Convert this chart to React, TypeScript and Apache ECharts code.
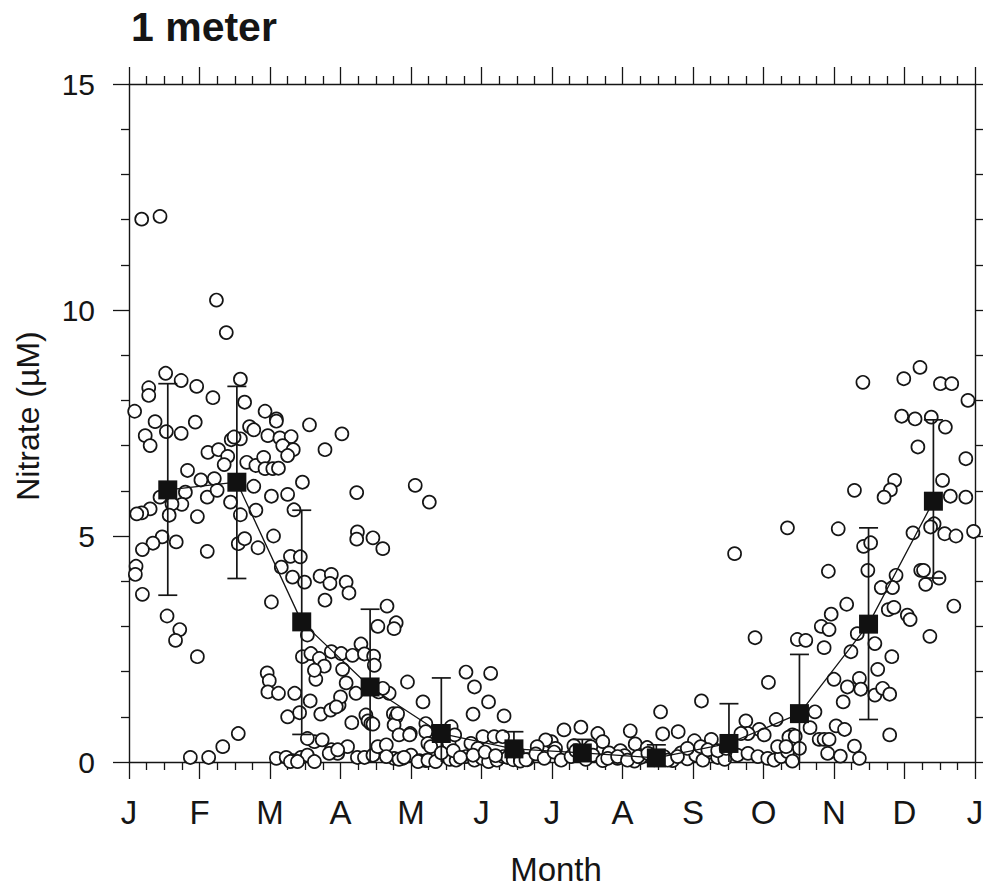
import React, { useEffect, useRef } from "react";
import * as echarts from "echarts";

// Month tick labels (x in month units, 0 = 1 Jan, 12 = next 1 Jan)
const monthLabels = ["J", "F", "M", "A", "M", "J", "J", "A", "S", "O", "N", "D", "J"];

// Individual observations [month, nitrate µM]
const janFebPts: number[][] = [
  [0.18, 12.01], [0.44, 12.07], [1.24, 10.22], [1.38, 9.5],
  [0.08, 7.76], [0.28, 8.28], [0.28, 8.11], [0.52, 8.6], [0.74, 8.44], [0.96, 8.31], [1.19, 8.06],
  [0.37, 7.53], [0.23, 7.22], [0.3, 7.0], [0.53, 7.31], [0.74, 7.27], [0.94, 7.52], [1.12, 6.85], [1.27, 6.91],
  [0.83, 6.45], [1.02, 6.24], [1.11, 5.86], [1.21, 6.27], [1.25, 6.01], [0.8, 5.97], [0.75, 5.7], [0.61, 5.71],
  [0.44, 5.86], [0.3, 5.6], [0.18, 5.51], [0.11, 5.49], [0.57, 5.46], [0.97, 5.43],
  [0.47, 4.98], [0.34, 4.84], [0.19, 4.7], [0.67, 4.87], [1.11, 4.66], [0.1, 4.33], [0.09, 4.15], [0.19, 3.71],
  [0.54, 3.23], [0.72, 2.93], [0.66, 2.69], [0.97, 2.33],
  [0.87, 0.1], [1.13, 0.1], [1.33, 0.34], [1.55, 0.63],
];

const febMarPts: number[][] = [
  [1.58, 8.47], [1.64, 7.96], [1.93, 7.76], [2.09, 7.59], [2.09, 7.54], [2.56, 7.46], [3.02, 7.26], [1.71, 7.42],
  [1.77, 7.35], [1.97, 7.22], [2.14, 7.17], [2.3, 7.2], [2.18, 7.0], [2.33, 6.91], [2.25, 6.78], [1.45, 7.13],
  [1.58, 7.15], [1.49, 7.19], [1.4, 6.76], [1.35, 6.58], [1.67, 6.63], [1.8, 6.56], [1.91, 6.74], [1.93, 6.49],
  [2.04, 6.49], [2.12, 6.5], [2.78, 6.91], [1.77, 6.1], [1.44, 5.75], [1.8, 5.57], [2.02, 5.88], [2.25, 5.92],
  [2.46, 6.19], [2.34, 5.58], [1.58, 5.47], [1.55, 4.83], [1.64, 4.94], [1.83, 4.74], [2.05, 5.0], [3.23, 5.96],
  [3.24, 5.09], [3.23, 4.93], [3.46, 4.96], [3.6, 4.72], [4.06, 6.12], [4.26, 5.75],
];

const springPts: number[][] = [
  [2.16, 4.31], [2.29, 4.55], [2.43, 4.54], [2.32, 4.09], [2.49, 3.98], [2.02, 3.54], [2.71, 4.11], [2.87, 4.15],
  [2.85, 3.95], [3.08, 3.98], [3.12, 3.74], [2.78, 3.58], [3.66, 3.45], [3.53, 3.0], [3.79, 3.08], [3.76, 2.95],
  [3.29, 2.61], [2.53, 2.81], [2.46, 2.33], [2.58, 2.4], [2.7, 2.29], [2.77, 2.12], [2.87, 2.44], [3.01, 2.4],
  [3.17, 2.36], [3.34, 2.39], [3.47, 2.34], [3.48, 2.14], [3.03, 2.05], [3.08, 1.75], [2.65, 1.83], [2.63, 2.03],
  [1.96, 1.97], [1.99, 1.8], [1.97, 1.55], [2.12, 1.52], [2.35, 1.52], [2.25, 1.0], [2.42, 1.09], [2.57, 1.35],
  [2.72, 1.06], [2.86, 1.15], [2.98, 1.26], [3.0, 1.44], [3.16, 0.87], [3.36, 1.04], [3.39, 0.91], [3.54, 1.55],
  [3.69, 1.52], [3.75, 1.07], [3.79, 1.0], [3.76, 0.82], [3.95, 1.77], [4.17, 1.33], [3.99, 0.63], [4.21, 0.85],
  [3.22, 1.52], [2.94, 1.22], [3.43, 0.85], [3.46, 0.84], [3.6, 1.63], [3.81, 1.07], [3.83, 0.6], [3.98, 0.6],
  [4.21, 0.67],
];

const springZeroPts: number[][] = [
  [2.09, 0.08], [2.23, 0.1], [2.32, 0.03], [2.44, 0.1], [2.53, 0.15], [2.63, 0.45], [2.74, 0.49], [2.87, 0.27],
  [2.96, 0.19], [3.1, 0.34], [3.24, 0.1], [3.34, 0.1], [3.46, 0.15], [3.53, 0.34], [3.65, 0.38], [3.76, 0.08],
  [3.88, 0.08], [4.0, 0.15], [4.12, 0.03], [4.21, 0.03], [2.53, 0.52], [2.29, 0.01], [2.39, 0.01], [2.63, 0.01],
  [2.84, 0.19], [2.96, 0.27], [3.65, 0.12], [3.83, 0.06], [3.9, 0.1], [4.1, 0.01], [4.24, 0.04], [4.35, 0.01],
  [4.55, 0.06], [4.64, 0.04], [4.78, 0.12], [4.9, 0.04], [5.01, 0.08], [5.1, 0.01], [5.22, 0.04], [5.31, 0.12],
];

const mayJunPts: number[][] = [
  [4.78, 1.99], [4.9, 1.66], [5.13, 1.96], [5.1, 1.33], [4.88, 1.06], [5.32, 1.02], [5.02, 0.56], [5.18, 0.56],
  [5.3, 0.56], [4.24, 0.41], [4.28, 0.34], [4.57, 0.78], [4.54, 0.41], [4.62, 0.6], [4.85, 0.41], [4.95, 0.3],
  [5.37, 0.1], [5.51, 0.2], [5.65, 0.05], [5.45, 0.05], [5.55, 0.02], [4.43, 0.2], [4.6, 0.25], [4.7, 0.1],
  [4.88, 0.15], [5.05, 0.22], [5.2, 0.14],
];

const summerPts: number[][] = [
  [5.99, 0.45], [6.17, 0.71], [6.41, 0.77], [6.65, 0.63], [6.72, 0.45], [7.11, 0.69], [7.18, 0.4], [7.54, 1.11],
  [7.57, 0.62], [7.79, 0.67], [8.02, 0.47], [8.12, 1.35], [8.26, 0.5], [8.59, 4.61], [5.91, 0.49],
  [5.79, 0.34], [6.05, 0.3], [6.31, 0.36], [6.55, 0.34], [6.97, 0.25], [7.35, 0.32],
];

const summerZeroPts: number[][] = [
  [5.63, 0.05], [5.77, 0.18], [5.89, 0.08], [6.03, 0.22], [6.13, 0.04], [6.27, 0.12], [6.34, 0.25], [6.48, 0.06],
  [6.58, 0.15], [6.72, 0.03], [6.81, 0.2], [6.93, 0.08], [7.03, 0.14], [7.17, 0.02], [7.26, 0.1], [7.38, 0.18],
  [7.45, 0.05], [7.59, 0.12], [7.71, 0.03], [7.83, 0.2], [7.92, 0.07], [8.04, 0.15], [8.14, 0.04], [8.26, 0.22],
  [8.35, 0.1], [8.45, 0.06], [7.92, 0.3], [8.11, 0.34], [8.21, 0.27], [8.35, 0.25], [8.47, 0.3], [8.63, 0.15],
  [8.78, 0.19], [8.92, 0.12], [9.06, 0.08], [9.15, 0.04], [9.25, 0.12], [9.34, 0.23], [6.79, 0.08], [6.93, 0.12],
  [7.07, 0.04], [7.22, 0.12], [7.36, 0.19], [7.64, 0.04], [7.78, 0.12],
];

const autumnPts: number[][] = [
  [9.34, 5.18], [10.06, 5.16], [9.92, 4.22], [10.18, 3.49], [9.96, 3.27], [9.82, 3.0], [9.93, 2.93], [9.86, 2.53],
  [10.24, 2.44], [9.48, 2.71], [9.6, 2.69], [8.88, 2.75], [9.07, 1.76], [10.0, 1.83], [10.19, 1.66], [10.13, 1.33],
  [9.73, 1.11], [9.66, 0.76], [10.03, 0.8], [10.15, 0.72], [9.79, 0.5], [9.86, 0.5], [9.93, 0.5], [9.91, 0.19],
  [10.09, 0.13], [9.18, 0.94], [9.41, 0.6], [9.36, 0.55], [9.45, 0.57], [9.51, 0.3], [9.2, 0.34], [9.32, 0.34],
  [9.41, 0.02], [8.75, 0.91], [8.94, 0.72], [9.01, 0.6], [8.78, 0.63], [8.68, 0.63],
];

const decPts: number[][] = [
  [10.41, 8.4], [10.29, 6.01], [10.99, 8.48], [11.22, 8.73], [11.51, 8.37], [11.67, 8.37], [11.9, 8.0], [10.96, 7.65],
  [11.15, 7.59], [11.38, 7.63], [11.58, 7.41], [11.19, 6.97], [11.87, 6.71], [10.86, 6.23], [10.8, 6.02], [10.71, 5.86],
  [11.54, 6.23], [11.65, 5.88], [11.87, 5.86], [11.12, 5.07], [11.42, 5.27], [11.37, 5.2], [11.57, 5.05], [11.73, 5.0],
  [11.98, 5.1], [10.42, 4.77], [10.52, 4.85], [10.48, 4.24], [11.23, 4.24], [11.27, 4.24], [11.3, 3.93], [11.49, 4.07],
  [10.88, 4.13], [10.67, 3.86], [10.83, 3.86], [10.77, 3.37], [10.85, 3.42], [11.04, 3.25], [11.08, 3.15], [11.7, 3.45],
  [11.36, 2.78], [10.33, 2.84], [10.58, 2.62], [10.82, 2.33], [10.62, 2.05], [10.36, 1.85], [10.38, 1.61], [10.58, 1.48],
  [10.69, 1.63], [10.79, 1.5], [10.79, 0.6], [10.29, 0.35], [10.36, 0.08],
];

// Monthly means and error bars
const meanMonths = [0.55, 1.53, 2.45, 3.42, 4.43, 5.46, 6.43, 7.48, 8.51, 9.51, 10.49, 11.41];
const meanValues = [6.02, 6.19, 3.1, 1.66, 0.63, 0.29, 0.2, 0.09, 0.41, 1.07, 3.05, 5.77];
const errUpper = [8.37, 8.31, 5.57, 3.38, 1.86, 0.67, 0.5, 0.38, 1.29, 2.38, 5.18, 7.57];
const errLower = [3.69, 4.06, 0.61, 0, 0, 0, 0, 0, 0, 0, 0.94, 4.07];

const FONT = "'Liberation Sans', Arial, Helvetica, sans-serif";
const INK = "#151515";

export default function App() {
  const ref = useRef<HTMLDivElement>(null);

  useEffect(() => {
    document.body.style.margin = "0";
    const chart = echarts.init(ref.current!, undefined, { renderer: "svg" });

    const allPts = [
      ...janFebPts, ...febMarPts, ...springPts, ...springZeroPts, ...mayJunPts,
      ...summerPts, ...summerZeroPts, ...autumnPts, ...decPts,
    ];
    const meanData = meanMonths.map((m, i) => [m, meanValues[i]]);
    const errData = meanMonths.map((m, i) => [m, errLower[i], errUpper[i]]);

    const tickStyle = { color: INK, width: 1.3 };
    const xCommon = {
      type: "value" as const,
      min: 0,
      max: 12,
      interval: 1,
      splitLine: { show: false },
      axisLine: { show: true, onZero: false, lineStyle: { color: INK, width: 1.4 } },
      axisTick: { show: true, inside: false, length: 17, lineStyle: tickStyle },
      minorTick: { show: true, splitNumber: 4, length: 8, lineStyle: tickStyle },
      minorSplitLine: { show: false },
    };

    chart.setOption({
      animation: false,
      backgroundColor: "#ffffff",
      grid: { left: 129, right: 12, top: 84, bottom: 128, containLabel: false },
      xAxis: [
        {
          ...xCommon,
          position: "bottom",
          axisLabel: {
            show: true,
            margin: 34,
            fontSize: 33,
            fontFamily: FONT,
            color: INK,
            formatter: (v: number) => monthLabels[Math.round(v)] ?? "",
          },
        },
        { ...xCommon, position: "top", axisLabel: { show: false } },
      ],
      yAxis: [
        {
          type: "value",
          position: "left",
          min: 0,
          max: 15,
          interval: 5,
          splitLine: { show: false },
          axisLine: { show: true, onZero: false, lineStyle: { color: INK, width: 1.4 } },
          axisTick: { show: true, inside: false, length: 16, lineStyle: tickStyle },
          minorTick: { show: true, splitNumber: 5, length: 8, lineStyle: tickStyle },
          axisLabel: { show: true, margin: 34, fontSize: 30, fontFamily: FONT, color: INK },
        },
        {
          type: "value",
          position: "right",
          min: 0,
          max: 15,
          interval: 1,
          splitLine: { show: false },
          axisLine: { show: true, onZero: false, lineStyle: { color: INK, width: 1.4 } },
          axisTick: { show: true, inside: false, length: 8, lineStyle: tickStyle },
          axisLabel: { show: false },
        },
      ],
      graphic: [
        {
          type: "text",
          x: 131,
          y: 27,
          style: {
            text: "1 meter",
            font: `bold 41px ${FONT}`,
            fill: INK,
            textAlign: "left",
            textVerticalAlign: "middle",
          },
        },
        {
          type: "text",
          x: 556,
          y: 869,
          style: {
            text: "Month",
            font: `33px ${FONT}`,
            fill: INK,
            textAlign: "center",
            textVerticalAlign: "middle",
          },
        },
        {
          type: "text",
          x: 28,
          y: 416,
          rotation: Math.PI / 2,
          style: {
            text: "Nitrate (µM)",
            font: `32px ${FONT}`,
            fill: INK,
            textAlign: "center",
            textVerticalAlign: "middle",
          },
        },
      ],
      series: [
        {
          type: "scatter",
          xAxisIndex: 0,
          yAxisIndex: 0,
          data: allPts,
          symbol: "circle",
          symbolSize: 13,
          itemStyle: { color: "#ffffff", borderColor: INK, borderWidth: 1.7, opacity: 1 },
          emphasis: { disabled: true },
          z: 2,
        },
        {
          type: "custom",
          xAxisIndex: 0,
          yAxisIndex: 0,
          data: errData,
          encode: { x: 0, y: [1, 2] },
          z: 3,
          renderItem: (_params: any, api: any) => {
            const x = api.value(0);
            const lo = api.value(1);
            const hi = api.value(2);
            const pHi = api.coord([x, hi]);
            const pLo = api.coord([x, lo]);
            const w = 9.5;
            const st = { stroke: INK, lineWidth: 1.7 };
            const children: any[] = [
              { type: "line", shape: { x1: pHi[0], y1: pHi[1], x2: pLo[0], y2: pLo[1] }, style: st },
              { type: "line", shape: { x1: pHi[0] - w, y1: pHi[1], x2: pHi[0] + w, y2: pHi[1] }, style: st },
            ];
            if (lo > 0) {
              children.push({ type: "line", shape: { x1: pLo[0] - w, y1: pLo[1], x2: pLo[0] + w, y2: pLo[1] }, style: st });
            }
            return { type: "group", children };
          },
        },
        {
          type: "line",
          xAxisIndex: 0,
          yAxisIndex: 0,
          data: meanData,
          symbol: "rect",
          symbolSize: 19,
          showAllSymbol: true,
          lineStyle: { color: INK, width: 1.3 },
          itemStyle: { color: "#111111", borderWidth: 0 },
          emphasis: { disabled: true },
          z: 4,
        },
      ],
    });

    return () => chart.dispose();
  }, []);

  return (
    <div
      ref={ref}
      style={{ position: "fixed", left: 0, top: 0, width: 987, height: 890, background: "#fff" }}
    />
  );
}
